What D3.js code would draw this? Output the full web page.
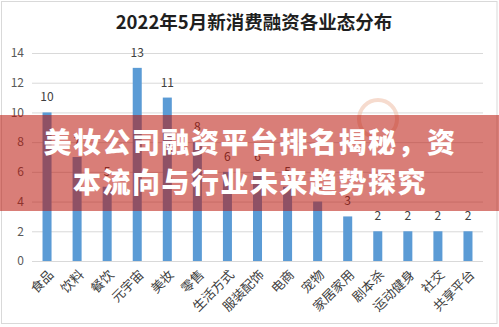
<!DOCTYPE html>
<html>
<head>
<meta charset="utf-8">
<script src="https://cdn.jsdelivr.net/npm/d3@7"></script>
<style>
  html, body { margin: 0; padding: 0; background: #fff; }
  svg { display: block; }
</style>
</head>
<body>
<svg id="chart" width="499" height="327"></svg>
<script>
// 2022年5月新消费融资各业态分布 — number of financing deals per sector
const categories = ["食品", "饮料", "餐饮", "元宇宙", "美妆", "零售", "生活方式", "服装配饰", "电商", "宠物", "家居家用", "剧本杀", "运动健身", "社交", "共享平台"];
const values = [10, 7, 5, 13, 11, 8, 6, 6, 5, 4, 3, 2, 2, 2, 2];
const yTicks = [0, 2, 4, 6, 8, 10, 12, 14];
const title = "2022年5月新消费融资各业态分布";
const bannerLines = ["美妆公司融资平台排名揭秘，资", "本流向与行业未来趋势探究"];

const W = 499, H = 327;
const svg = d3.select("#chart");
const font = "'Microsoft YaHei', 'Noto Sans CJK SC', 'Noto Sans', sans-serif";

svg.append("rect").attr("width", W).attr("height", H).attr("fill", "#fff");
svg.append("rect")
  .attr("x", 1.5).attr("y", 1.5).attr("width", 495.5).attr("height", 322)
  .attr("fill", "none").attr("stroke", "#d9d9d9").attr("stroke-width", 1);

const x = d3.scaleBand().domain(categories).range([32, 483])
  .paddingInner(0.7).paddingOuter(0.35);
const y = d3.scaleLinear().domain([0, 14]).range([261, 53]);

// title
svg.append("text")
  .attr("x", 254).attr("y", 29)
  .attr("text-anchor", "middle")
  .attr("font-family", font).attr("font-size", 18.5).attr("font-weight", "bold")
  .attr("fill", "#1f1f1f")
  .text(title);

// gridlines + y labels
const yAxis = d3.axisLeft(y).tickValues(yTicks).tickSize(-(483 - 32)).tickPadding(8);
const gy = svg.append("g").attr("transform", "translate(32,0)").call(yAxis);
gy.select(".domain").remove();
gy.selectAll(".tick line").attr("stroke", "#d9d9d9").attr("stroke-width", 1);
gy.selectAll(".tick text")
  .attr("font-family", font).attr("font-size", 12).attr("fill", "#595959");

// watermark ring
svg.append("circle")
  .attr("cx", 378).attr("cy", 119).attr("r", 19)
  .attr("fill", "none").attr("stroke", "#f0c3ae").attr("stroke-width", 4).attr("opacity", 0.6);

// bars
svg.append("g").selectAll("rect")
  .data(categories)
  .join("rect")
  .attr("x", (d) => x(d))
  .attr("width", x.bandwidth())
  .attr("y", (d, i) => y(values[i]))
  .attr("height", (d, i) => y(0) - y(values[i]))
  .attr("fill", "#5b9bd5");

// value labels
svg.append("g").selectAll("text")
  .data(categories)
  .join("text")
  .attr("x", (d) => x(d) + x.bandwidth() / 2)
  .attr("y", (d, i) => y(values[i]) - 11)
  .attr("text-anchor", "middle")
  .attr("font-family", font).attr("font-size", 12).attr("fill", "#404040")
  .text((d, i) => values[i]);

// x axis labels, rotated
const xAxis = d3.axisBottom(x).tickSize(0).tickPadding(0);
const gx = svg.append("g").attr("transform", "translate(0,261)").call(xAxis);
gx.select(".domain").remove();
gx.selectAll(".tick text")
  .attr("font-family", font).attr("font-size", 13).attr("fill", "#404040")
  .attr("text-anchor", "end")
  .attr("dy", null)
  .attr("transform", "translate(5,12) rotate(-45)")
  .attr("y", 0).attr("x", 0)
  .attr("dominant-baseline", "middle");

// overlay banner
svg.append("rect")
  .attr("x", 0).attr("y", 115).attr("width", W).attr("height", 96)
  .attr("fill", "rgb(185,20,10)").attr("opacity", 0.55);

svg.append("g").selectAll("text")
  .data(bannerLines)
  .join("text")
  .attr("x", 250)
  .attr("y", (d, i) => 153 + i * 40)
  .attr("text-anchor", "middle")
  .attr("font-family", "'Noto Sans CJK SC', sans-serif")
  .attr("font-size", 28).attr("font-weight", 900)
  .attr("letter-spacing", 1.5)
  .attr("fill", "#fff")
  .text((d) => d);
</script>
</body>
</html>
